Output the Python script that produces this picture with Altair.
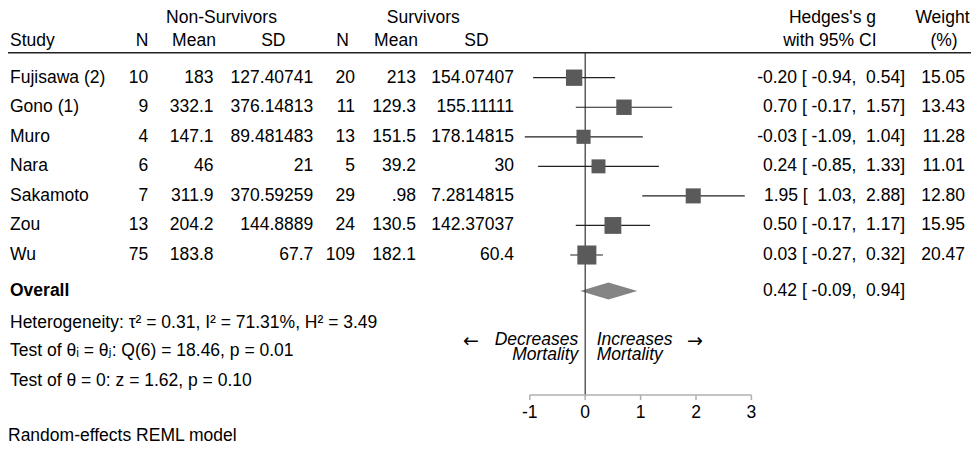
import altair as alt
import pandas as pd

# ---------------- data ----------------
studies = ["Fujisawa (2)", "Gono (1)", "Muro", "Nara", "Sakamoto", "Zou", "Wu"]
ns_n = [10, 9, 4, 6, 7, 13, 75]
ns_mean = [183, 332.1, 147.1, 46, 311.9, 204.2, 183.8]
ns_sd = [127.40741, 376.14813, 89.481483, 21, 370.59259, 144.8889, 67.7]
s_n = [20, 11, 13, 5, 29, 24, 109]
s_mean = [213, 129.3, 151.5, 39.2, 0.98, 130.5, 182.1]
s_sd = [154.07407, 155.11111, 178.14815, 30, 7.2814815, 142.37037, 60.4]
hedges_g = [-0.20, 0.70, -0.03, 0.24, 1.95, 0.50, 0.03]
ci_low = [-0.94, -0.17, -1.09, -0.85, 1.03, -0.17, -0.27]
ci_high = [0.54, 1.57, 1.04, 1.33, 2.88, 1.17, 0.32]
weights = [15.05, 13.43, 11.28, 11.01, 12.80, 15.95, 20.47]
overall_g, overall_low, overall_high = 0.42, -0.09, 0.94
x_ticks = [-1, 0, 1, 2, 3]

het_text = "Heterogeneity: \u03c4\u00b2 = 0.31, I\u00b2 = 71.31%, H\u00b2 = 3.49"
qtest_text = "Test of \u03b8\u1d62 = \u03b8\u2c7c: Q(6) = 18.46, p = 0.01"
ztest_text = "Test of \u03b8 = 0: z = 1.62, p = 0.10"
model_text = "Random-effects REML model"
left_note = ["Decreases", "Mortality"]
right_note = ["Increases", "Mortality"]

# ---------------- layout / style ----------------
W, H = 963, 437
FONT = "Liberation Sans, Arial, DejaVu Sans"
FS = 17.5
TXT = "#000000"
ROW0, STEP = 69.7, 29.55          # pixel of first study row, row spacing
OVERALL_ROW = 7.22
ZERO_PX, UNIT_PX = 577.2, 55.4    # pixel of effect 0, pixels per unit
DIAMOND_HALF = 8.5 / STEP
HDR1, HDR2 = 10.3, 33.3

XS = alt.Scale(domain=[-ZERO_PX / UNIT_PX, (W - ZERO_PX) / UNIT_PX], nice=False, zero=False)
YS = alt.Scale(domain=[-ROW0 / STEP, (H - ROW0) / STEP], reverse=True, nice=False, zero=False)
NBSP = "\u00a0"


def stata_num(v):
    s = repr(float(v)) if isinstance(v, float) else str(v)
    if s.endswith(".0"):
        s = s[:-2]
    if s.startswith("0."):
        s = s[1:]
    return s


def ci_str(g, lo, hi):
    return f"{g:.2f} [{lo:6.2f}, {hi:5.2f}]".replace(" ", NBSP)


rows = pd.DataFrame({
    "row": list(range(len(studies))),
    "study": studies,
    "ns_n": [stata_num(v) for v in ns_n],
    "ns_mean": [stata_num(v) for v in ns_mean],
    "ns_sd": [stata_num(v) for v in ns_sd],
    "s_n": [stata_num(v) for v in s_n],
    "s_mean": [stata_num(v) for v in s_mean],
    "s_sd": [stata_num(v) for v in s_sd],
    "g": hedges_g,
    "lo": ci_low,
    "hi": ci_high,
    "w": weights,
    "ci": [ci_str(g, l, h) for g, l, h in zip(hedges_g, ci_low, ci_high)],
    "wt": [f"{w:.2f}" for w in weights],
})

overall = pd.DataFrame({
    "row": [OVERALL_ROW],
    "label": ["Overall"],
    "ci": [ci_str(overall_g, overall_low, overall_high)],
})

diamond = pd.DataFrame({
    "x": [overall_low, overall_g, overall_high],
    "top": [OVERALL_ROW, OVERALL_ROW - DIAMOND_HALF, OVERALL_ROW],
    "bot": [OVERALL_ROW, OVERALL_ROW + DIAMOND_HALF, OVERALL_ROW],
})

ticks = pd.DataFrame({"t": x_ticks, "label": [str(t) for t in x_ticks]})
zero = pd.DataFrame({"x": [0]})
one = pd.DataFrame({"d": [0]})


def col(df, field, x, align, **kw):
    return alt.Chart(df).mark_text(
        align=align, baseline="middle", font=FONT, fontSize=FS, color=TXT, **kw
    ).encode(
        x=alt.value(x),
        y=alt.Y("row:Q", scale=YS, axis=None),
        text=f"{field}:N",
    )


def label(txt, x, y, align="left", baseline="middle", **kw):
    params = dict(font=FONT, fontSize=FS, color=TXT)
    params.update(kw)
    return alt.Chart(one).mark_text(
        text=txt, align=align, baseline=baseline, **params
    ).encode(x=alt.value(x), y=alt.value(y))


layers = []

# headers
layers += [
    label("Non-Survivors", 213.5, HDR1, "center"),
    label("Survivors", 415.3, HDR1, "center"),
    label("Hedges's g", 868, HDR1, "right"),
    label("Weight", 934.5, HDR1, "center"),
    label("Study", 2, HDR2, "left"),
    label("N", 140.3, HDR2, "right"),
    label("Mean", 186, HDR2, "center"),
    label("SD", 265.3, HDR2, "center"),
    label("N", 334.5, HDR2, "center"),
    label("Mean", 388, HDR2, "center"),
    label("SD", 468.5, HDR2, "center"),
    label("with 95% CI", 868.5, HDR2, "right"),
    label("(%)", 936, HDR2, "center"),
]

# header rule
layers.append(
    alt.Chart(one).mark_rule(color="#222222", strokeWidth=1.5).encode(
        x=alt.value(0), x2=alt.value(W), y=alt.value(44.7)
    )
)

# diamond (overall)
layers.append(
    alt.Chart(diamond).mark_area(color="#848484", orient="vertical", opacity=1).encode(
        x=alt.X("x:Q", scale=XS, axis=None),
        y=alt.Y("top:Q", scale=YS, axis=None),
        y2="bot:Q",
    )
)

# no-effect line
layers.append(
    alt.Chart(zero).mark_rule(color="#333333", strokeWidth=1.2).encode(
        x=alt.X("x:Q", scale=XS, axis=None), y=alt.value(44.7), y2=alt.value(387)
    )
)

# CI lines
layers.append(
    alt.Chart(rows).mark_rule(color="#222222", strokeWidth=1.2).encode(
        x=alt.X("lo:Q", scale=XS, axis=None),
        x2="hi:Q",
        y=alt.Y("row:Q", scale=YS, axis=None),
    )
)

# weight squares
layers.append(
    alt.Chart(rows).mark_square(color="#5a5a5a", opacity=1, filled=True).encode(
        x=alt.X("g:Q", scale=XS, axis=None),
        y=alt.Y("row:Q", scale=YS, axis=None),
        size=alt.Size("w:Q", scale=alt.Scale(domain=[0, 100], range=[0, 1770]), legend=None),
    )
)

# table columns
layers += [
    col(rows, "study", 2, "left"),
    col(rows, "ns_n", 140.3, "right"),
    col(rows, "ns_mean", 205.5, "right"),
    col(rows, "ns_sd", 305.3, "right"),
    col(rows, "s_n", 347, "right"),
    col(rows, "s_mean", 408, "right"),
    col(rows, "s_sd", 506, "right"),
    col(rows, "ci", 897, "right"),
    col(rows, "wt", 957, "right"),
    col(overall, "label", 2, "left", fontWeight="bold"),
    col(overall, "ci", 897, "right"),
]

# bottom annotations
ARROW_FONT = "DejaVu Sans"
layers += [
    label(het_text, 2, 315),
    label(qtest_text, 2, 343.3),
    label(ztest_text, 2, 372.6),
    label(model_text, 0, 428),
    label("\u2190", 455, 332.6, font=ARROW_FONT, fontSize=19),
    label(left_note, 570.3, 322.8, "right", baseline="top", fontStyle="italic", lineHeight=15),
    label(right_note, 588.7, 322.8, "left", baseline="top", fontStyle="italic", lineHeight=15),
    label("\u2192", 679, 332.6, font=ARROW_FONT, fontSize=19),
]

# x axis drawn through the scale
layers.append(
    alt.Chart(one).mark_rule(color="#b0b0b0", strokeWidth=1.5).encode(
        x=alt.X(datum=x_ticks[0], scale=XS, axis=None),
        x2=alt.X2(datum=x_ticks[-1]),
        y=alt.value(387),
    )
)
layers.append(
    alt.Chart(ticks).mark_rule(color="#b0b0b0", strokeWidth=1.5).encode(
        x=alt.X("t:Q", scale=XS, axis=None), y=alt.value(387), y2=alt.value(392)
    )
)
layers.append(
    alt.Chart(ticks).mark_text(font=FONT, fontSize=FS, color=TXT, baseline="middle").encode(
        x=alt.X("t:Q", scale=XS, axis=None), y=alt.value(405), text="label:N"
    )
)

chart = alt.layer(*layers).properties(
    width=W, height=H, padding=0, autosize=alt.AutoSizeParams(type="none")
).configure_view(strokeWidth=0)

chart.save("out.html", embed_options={"renderer": "svg", "actions": False})
